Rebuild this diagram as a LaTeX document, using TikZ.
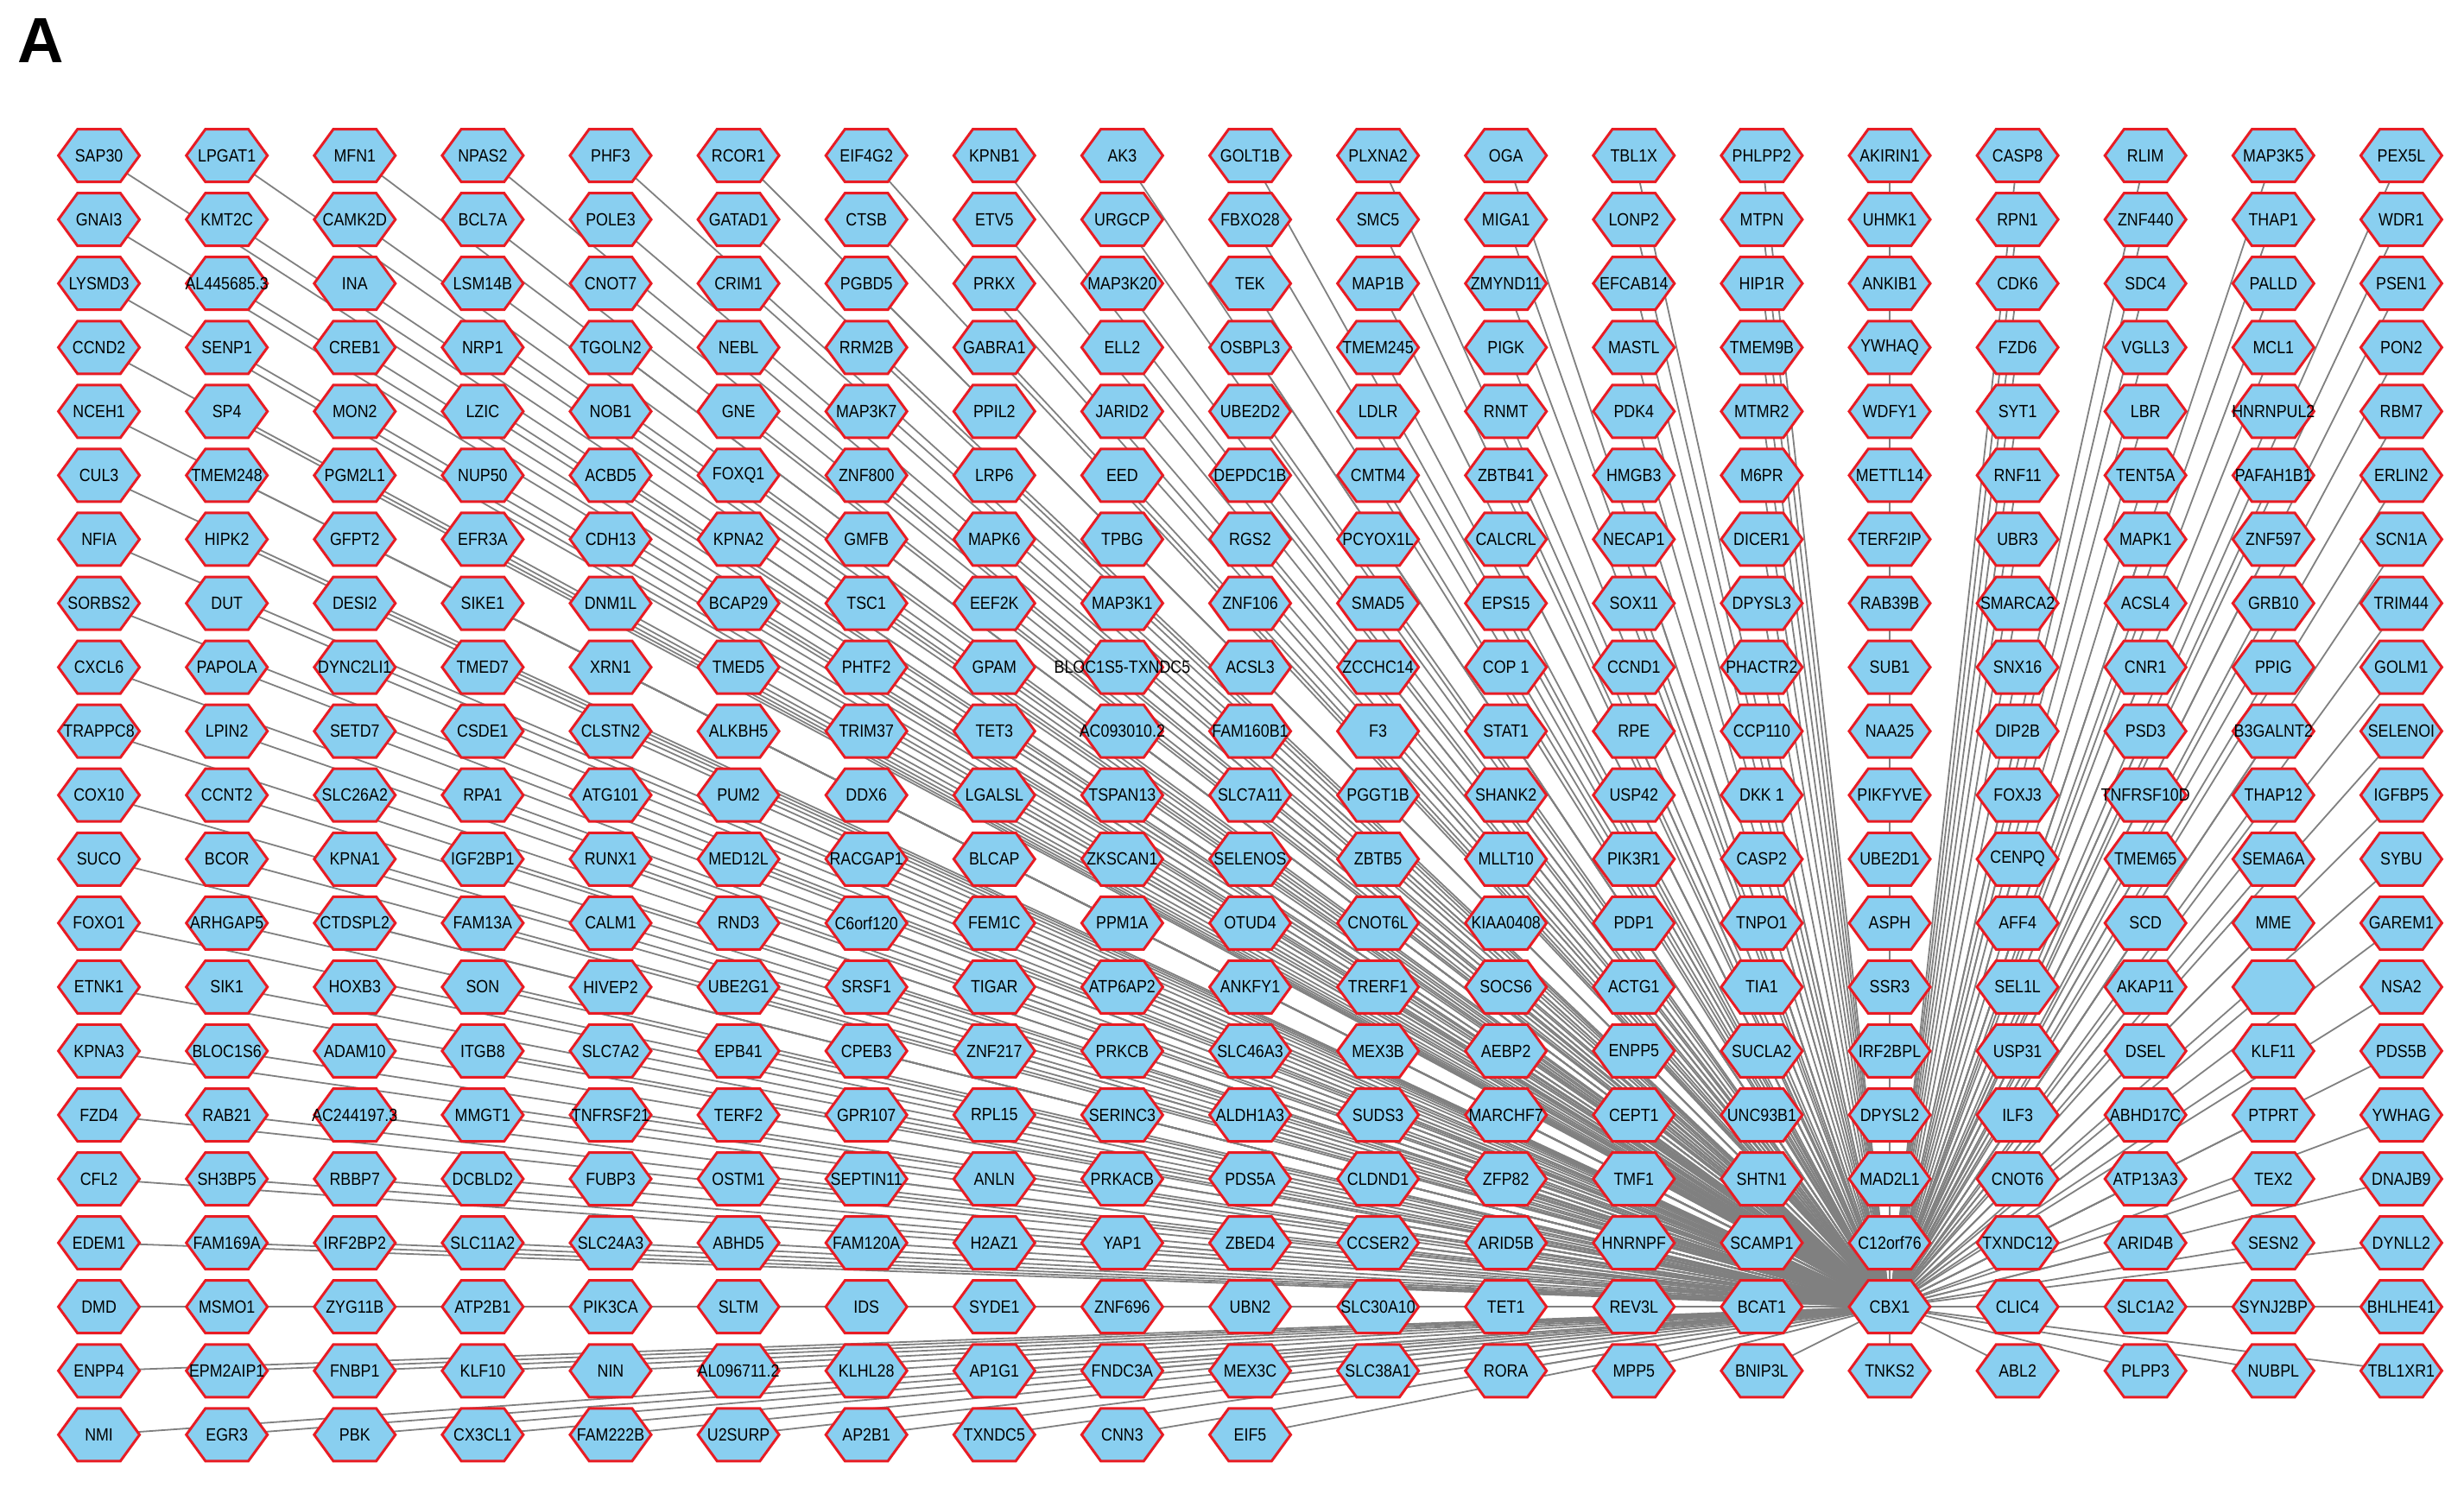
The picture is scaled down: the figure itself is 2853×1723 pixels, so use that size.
\documentclass[tikz,border=0pt]{standalone}
\usepackage{fontspec}
\newfontfamily\nodefont{Liberation Sans}[FakeStretch=0.87]
\newfontfamily\titlefont{Liberation Sans}
\usetikzlibrary{shapes.symbols}
\definecolor{hexfill}{RGB}{137,207,240}
\definecolor{hexline}{RGB}{232,28,36}
\definecolor{edgegray}{RGB}{128,128,128}
\pgfdeclarelayer{edgelayer}
\pgfsetlayers{edgelayer,main}
\tikzset{
  hexn/.style={shape=signal, signal to=east and west, signal pointer angle=108,
    minimum width=94pt, minimum height=61pt, inner sep=0pt,
    fill=hexfill, draw=hexline, line width=3pt, text=black,
    font=\nodefont\fontsize{20.5}{20.5}\selectfont},
  link/.style={draw=edgegray, line width=1.8pt}
}
\newcommand\hexrow[2]{%
  \foreach \lab [count=\c] in {#2} {%
    \node[hexn] (n#1-\c) at ({114.6+(\c-1)*148.1},{180.1+(#1-1)*74.06}) {\makebox[0pt][c]{\lab}};}}
\begin{document}
\begin{tikzpicture}[x=1pt,y=-1pt]
\useasboundingbox (0,0) rectangle (2853,1723);
\node[anchor=base west, inner sep=0pt, font=\titlefont\bfseries\fontsize{74}{74}\selectfont] (panelA) at (20,73) {A};
\hexrow{1}{SAP30,LPGAT1,MFN1,NPAS2,PHF3,RCOR1,EIF4G2,KPNB1,AK3,GOLT1B,PLXNA2,OGA,TBL1X,PHLPP2,AKIRIN1,CASP8,RLIM,MAP3K5,PEX5L}
\hexrow{2}{GNAI3,KMT2C,CAMK2D,BCL7A,POLE3,GATAD1,CTSB,ETV5,URGCP,FBXO28,SMC5,MIGA1,LONP2,MTPN,UHMK1,RPN1,ZNF440,THAP1,WDR1}
\hexrow{3}{LYSMD3,AL445685.3,INA,LSM14B,CNOT7,CRIM1,PGBD5,PRKX,MAP3K20,TEK,MAP1B,ZMYND11,EFCAB14,HIP1R,ANKIB1,CDK6,SDC4,PALLD,PSEN1}
\hexrow{4}{CCND2,SENP1,CREB1,NRP1,TGOLN2,NEBL,RRM2B,GABRA1,ELL2,OSBPL3,TMEM245,PIGK,MASTL,TMEM9B,YWHAQ,FZD6,VGLL3,MCL1,PON2}
\hexrow{5}{NCEH1,SP4,MON2,LZIC,NOB1,GNE,MAP3K7,PPIL2,JARID2,UBE2D2,LDLR,RNMT,PDK4,MTMR2,WDFY1,SYT1,LBR,HNRNPUL2,RBM7}
\hexrow{6}{CUL3,TMEM248,PGM2L1,NUP50,ACBD5,FOXQ1,ZNF800,LRP6,EED,DEPDC1B,CMTM4,ZBTB41,HMGB3,M6PR,METTL14,RNF11,TENT5A,PAFAH1B1,ERLIN2}
\hexrow{7}{NFIA,HIPK2,GFPT2,EFR3A,CDH13,KPNA2,GMFB,MAPK6,TPBG,RGS2,PCYOX1L,CALCRL,NECAP1,DICER1,TERF2IP,UBR3,MAPK1,ZNF597,SCN1A}
\hexrow{8}{SORBS2,DUT,DESI2,SIKE1,DNM1L,BCAP29,TSC1,EEF2K,MAP3K1,ZNF106,SMAD5,EPS15,SOX11,DPYSL3,RAB39B,SMARCA2,ACSL4,GRB10,TRIM44}
\hexrow{9}{CXCL6,PAPOLA,DYNC2LI1,TMED7,XRN1,TMED5,PHTF2,GPAM,BLOC1S5-TXNDC5,ACSL3,ZCCHC14,COP 1,CCND1,PHACTR2,SUB1,SNX16,CNR1,PPIG,GOLM1}
\hexrow{10}{TRAPPC8,LPIN2,SETD7,CSDE1,CLSTN2,ALKBH5,TRIM37,TET3,AC093010.2,FAM160B1,F3,STAT1,RPE,CCP110,NAA25,DIP2B,PSD3,B3GALNT2,SELENOI}
\hexrow{11}{COX10,CCNT2,SLC26A2,RPA1,ATG101,PUM2,DDX6,LGALSL,TSPAN13,SLC7A11,PGGT1B,SHANK2,USP42,DKK 1,PIKFYVE,FOXJ3,TNFRSF10D,THAP12,IGFBP5}
\hexrow{12}{SUCO,BCOR,KPNA1,IGF2BP1,RUNX1,MED12L,RACGAP1,BLCAP,ZKSCAN1,SELENOS,ZBTB5,MLLT10,PIK3R1,CASP2,UBE2D1,CENPQ,TMEM65,SEMA6A,SYBU}
\hexrow{13}{FOXO1,ARHGAP5,CTDSPL2,FAM13A,CALM1,RND3,C6orf120,FEM1C,PPM1A,OTUD4,CNOT6L,KIAA0408,PDP1,TNPO1,ASPH,AFF4,SCD,MME,GAREM1}
\hexrow{14}{ETNK1,SIK1,HOXB3,SON,HIVEP2,UBE2G1,SRSF1,TIGAR,ATP6AP2,ANKFY1,TRERF1,SOCS6,ACTG1,TIA1,SSR3,SEL1L,AKAP11,{},NSA2}
\hexrow{15}{KPNA3,BLOC1S6,ADAM10,ITGB8,SLC7A2,EPB41,CPEB3,ZNF217,PRKCB,SLC46A3,MEX3B,AEBP2,ENPP5,SUCLA2,IRF2BPL,USP31,DSEL,KLF11,PDS5B}
\hexrow{16}{FZD4,RAB21,AC244197.3,MMGT1,TNFRSF21,TERF2,GPR107,RPL15,SERINC3,ALDH1A3,SUDS3,MARCHF7,CEPT1,UNC93B1,DPYSL2,ILF3,ABHD17C,PTPRT,YWHAG}
\hexrow{17}{CFL2,SH3BP5,RBBP7,DCBLD2,FUBP3,OSTM1,SEPTIN11,ANLN,PRKACB,PDS5A,CLDND1,ZFP82,TMF1,SHTN1,MAD2L1,CNOT6,ATP13A3,TEX2,DNAJB9}
\hexrow{18}{EDEM1,FAM169A,IRF2BP2,SLC11A2,SLC24A3,ABHD5,FAM120A,H2AZ1,YAP1,ZBED4,CCSER2,ARID5B,HNRNPF,SCAMP1,C12orf76,TXNDC12,ARID4B,SESN2,DYNLL2}
\hexrow{19}{DMD,MSMO1,ZYG11B,ATP2B1,PIK3CA,SLTM,IDS,SYDE1,ZNF696,UBN2,SLC30A10,TET1,REV3L,BCAT1,CBX1,CLIC4,SLC1A2,SYNJ2BP,BHLHE41}
\hexrow{20}{ENPP4,EPM2AIP1,FNBP1,KLF10,NIN,AL096711.2,KLHL28,AP1G1,FNDC3A,MEX3C,SLC38A1,RORA,MPP5,BNIP3L,TNKS2,ABL2,PLPP3,NUBPL,TBL1XR1}
\hexrow{21}{NMI,EGR3,PBK,CX3CL1,FAM222B,U2SURP,AP2B1,TXNDC5,CNN3,EIF5}
\begin{pgfonlayer}{edgelayer}
\foreach \r in {1,...,20} {%
  \foreach \c in {1,...,19} {%
    \ifnum\r\c=1915\relax\else\draw[link] (n\r-\c.center) -- (n19-15.center);\fi}}
\foreach \c in {1,...,10} {\draw[link] (n21-\c.center) -- (n19-15.center);}
\end{pgfonlayer}
\end{tikzpicture}
\end{document}
